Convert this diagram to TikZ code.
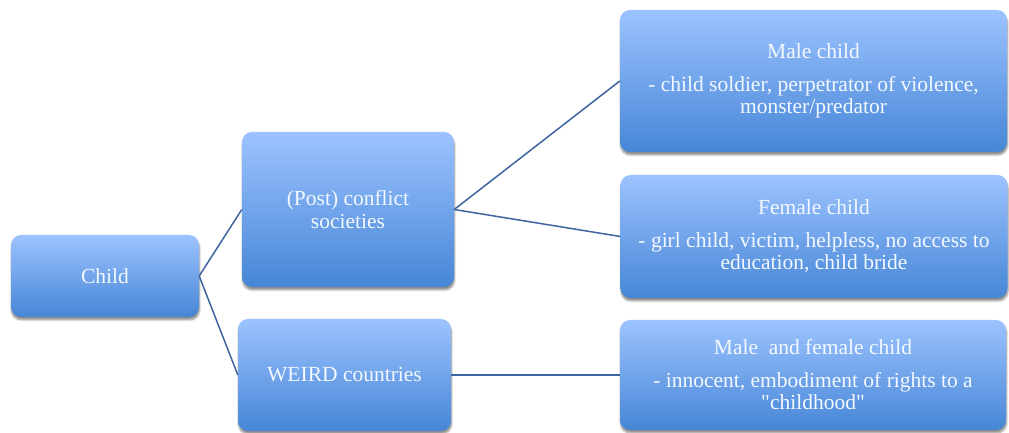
\documentclass[tikz,border=0pt]{standalone}
\usepackage{fontspec}
\setmainfont{Liberation Serif}[Ligatures=TeXOff]
\usetikzlibrary{shadows.blur}
\definecolor{boxtop}{HTML}{9CC3FF}
\definecolor{boxbot}{HTML}{4686D6}
\definecolor{linecol}{HTML}{3D649E}
\definecolor{txt}{HTML}{F4F8FF}
\tikzset{
  box/.style={rectangle, rounded corners=10pt, top color=boxtop, bottom color=boxbot,
    draw=none, text=txt, align=center, inner sep=0pt,
    font=\fontsize{21.5}{22.5}\selectfont,
    blur shadow={shadow xshift=0.5pt, shadow yshift=-3pt, shadow blur steps=6, shadow opacity=45}},
  link/.style={draw=linecol, line width=1.5pt}
}
\begin{document}
\begin{tikzpicture}[x=1pt,y=1pt]
\useasboundingbox (0,0) rectangle (1009,433);
\node[box, minimum width=188pt, minimum height=82pt] (child) at (105,157) {Child};
\node[box, minimum width=212pt, minimum height=155pt] (post) at (348,223.5) {(Post) conflict\\societies};
\node[box, minimum width=213pt, minimum height=112pt] (weird) at (344.5,58) {WEIRD countries};
\node[box, minimum width=387pt, minimum height=142pt] (male) at (813.5,352) {Male child\\[10pt]- child soldier, perpetrator of violence,\\monster/predator};
\node[box, minimum width=387pt, minimum height=123pt] (female) at (814,196.5) {Female child\\[10pt]- girl child, victim, helpless, no access to\\education, child bride};
\node[box, minimum width=386pt, minimum height=110pt] (mf) at (813,58) {Male \ and female child\\[10pt]- innocent, embodiment of rights to a\\"childhood"};
\draw[link] (child.east) -- (post.west);
\draw[link] (child.east) -- (weird.west);
\draw[link] (post.east) -- (male.west);
\draw[link] (post.east) -- (female.west);
\draw[link] (weird.east) -- (mf.west);
\end{tikzpicture}
\end{document}
